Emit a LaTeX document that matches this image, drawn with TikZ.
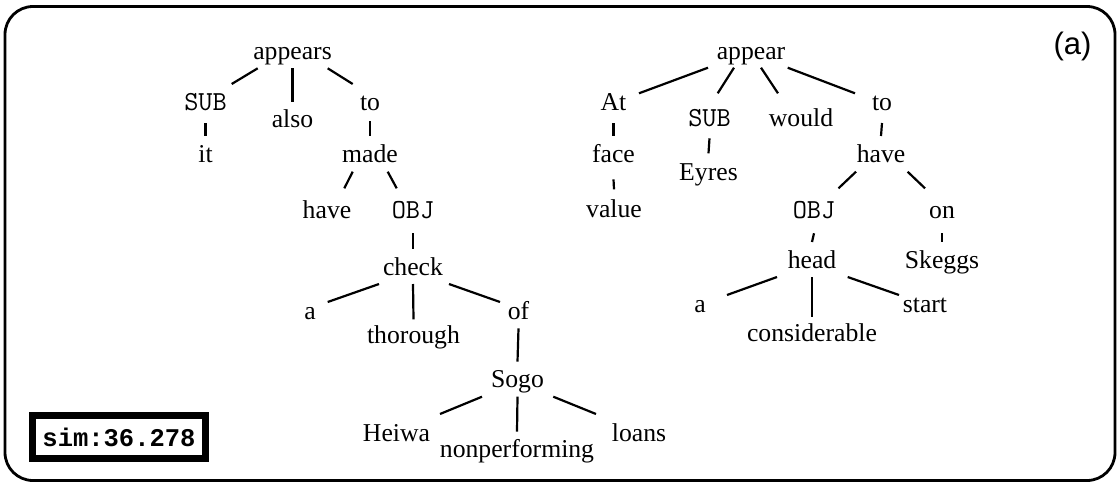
\documentclass[tikz,border=0pt]{standalone}
\usepackage{fontspec}
\setmainfont{Liberation Serif}
\newfontfamily\simmono{Liberation Mono}
\newfontfamily\labelsans{Liberation Sans}
\usetikzlibrary{calc}
\tikzset{
  w/.style={inner sep=0pt, anchor=base, font=\fontsize{25.7}{30}\selectfont},
  m/.style={inner sep=0pt, anchor=base, font=\fontsize{27.5}{30}\selectfont\ttfamily},
  edge/.style={line width=2.2pt},
}
\newcommand\lnk[4]{\draw[edge] ($(#1.base)+(#2)$) -- ($(#3.base)+(#4)$);}
\begin{document}
\begin{tikzpicture}[x=1pt,y=-1pt]
\useasboundingbox (0,0) rectangle (1117,483);
% frame
\draw[line width=2.8pt, rounded corners=28pt] (5,6.5) rectangle (1115,480.5);
% sim box
\node[draw, line width=7pt, inner sep=0pt, minimum width=173pt, minimum height=43pt,
      font=\fontsize{25.5}{30}\selectfont\simmono\bfseries] (sim) at (119,437) {sim:36.278};
% (a)
\node[inner sep=0pt, font=\fontsize{31}{36}\selectfont\labelsans] (lab) at (1072.5,46) {(a)};
% left tree
\node[w] (La) at (292.5,59) {appears};
\node[m] (Lsub) at (205.5,110) {SUB};
\node[w] (Lalso) at (292.5,127) {also};
\node[w] (Lto) at (370,110) {to};
\node[w] (Lit) at (205.5,162) {it};
\node[w] (Lmade) at (370,162) {made};
\node[w] (Lhave) at (327,218) {have};
\node[m] (Lobj) at (413,218) {OBJ};
\node[w] (Lcheck) at (413,275) {check};
\node[w] (La2) at (310,319) {a};
\node[w] (Lthor) at (413.5,343) {thorough};
\node[w] (Lof) at (518.5,319) {of};
\node[w] (Lsogo) at (517.5,387) {Sogo};
\node[w] (Lheiwa) at (396.5,441) {Heiwa};
\node[w] (Lnonp) at (517,457) {nonperforming};
\node[w] (Lloans) at (639,441) {loans};
% right tree
\node[w] (Ra) at (751,59) {appear};
\node[w] (Rat) at (613.5,110) {At};
\node[m] (Rsub) at (709.5,126) {SUB};
\node[w] (Rwould) at (801,126) {would};
\node[w] (Rto) at (882,110) {to};
\node[w] (Rface) at (613.5,162) {face};
\node[w] (Rvalue) at (614,217) {value};
\node[w] (Reyres) at (708.5,180) {Eyres};
\node[w] (Rhave) at (881,162) {have};
\node[m] (Robj) at (814,218) {OBJ};
\node[w] (Ron) at (942,218) {on};
\node[w] (Rhead) at (812,268) {head};
\node[w] (Rsk) at (942,268) {Skeggs};
\node[w] (Ra2) at (700,312) {a};
\node[w] (Rcons) at (812,341) {considerable};
\node[w] (Rstart) at (925,312) {start};
% left edges
\lnk{La}{-34.8,9.3}{Lsub}{26.2,-26}
\lnk{La}{0,9}{Lalso}{0,-25.3}
\lnk{La}{35.2,9.3}{Lto}{-17.3,-26}
\lnk{Lsub}{0,13}{Lit}{0,-26}
\lnk{Lto}{0,11}{Lmade}{0,-26}
\lnk{Lmade}{-17.3,9.7}{Lhave}{17.3,-29.7}
\lnk{Lmade}{17.7,9.7}{Lobj}{-16.3,-29.7}
\lnk{Lobj}{0,15.3}{Lcheck}{0,-26}
\lnk{Lcheck}{-34,9}{La2}{17.7,-17}
\lnk{Lcheck}{0,9}{Lthor}{0,-23.7}
\lnk{Lcheck}{36,9}{Lof}{-18.5,-17}
\lnk{Lof}{0,9.3}{Lsogo}{0,-25.3}
\lnk{Lsogo}{-35.5,9.7}{Lheiwa}{43.5,-27}
\lnk{Lsogo}{0,9.7}{Lnonp}{0,-25.3}
\lnk{Lsogo}{35.8,9.7}{Lloans}{-43,-27}
% right edges
\lnk{Ra}{-43,8.7}{Rat}{25.5,-16.7}
\lnk{Ra}{-17,8.7}{Rsub}{8.2,-32.7}
\lnk{Ra}{10,8.7}{Rwould}{-23,-32.7}
\lnk{Ra}{36.7,8.7}{Rto}{-27,-16.7}
\lnk{Rat}{0,13}{Rface}{0,-26}
\lnk{Rface}{0,17.3}{Rvalue}{0,-27.7}
\lnk{Rsub}{0,12.3}{Reyres}{0,-26.7}
\lnk{Rto}{0,13}{Rhave}{0,-26}
\lnk{Rhave}{-25,9.7}{Robj}{24.5,-29.7}
\lnk{Rhave}{26.6,9.7}{Ron}{-17,-29.7}
\lnk{Robj}{0,15.3}{Rhead}{0,-26}
\lnk{Ron}{0,15.3}{Rsk}{0,-26}
\lnk{Rhead}{-35,9}{Ra2}{27,-17}
\lnk{Rhead}{0,9}{Rcons}{0,-24}
\lnk{Rhead}{35.7,9}{Rstart}{-26,-17}
\end{tikzpicture}
\end{document}
